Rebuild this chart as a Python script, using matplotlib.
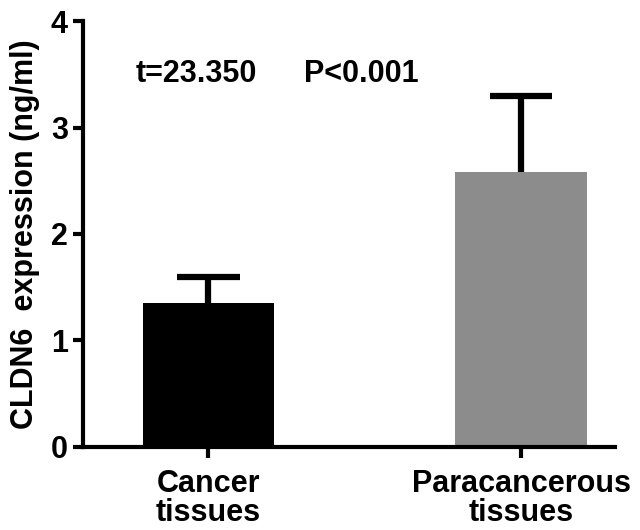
import matplotlib
matplotlib.use("Agg")
import matplotlib.pyplot as plt

plt.rcParams['font.family'] = ['Liberation Sans', 'DejaVu Sans']
plt.rcParams['font.weight'] = 'bold'

# Data
groups = ["Cancer\ntissues", "Paracancerous\ntissues"]
means = [1.35, 2.58]
sd = [0.25, 0.72]
colors = ["#000000", "#8c8c8c"]

fig = plt.figure(figsize=(6.4, 5.3), dpi=100)
ax = fig.add_axes([0.130, 0.157, 0.831, 0.803])

x = list(range(len(groups)))
ax.bar(x, means, width=0.42, color=colors, zorder=2)
# upper error bars only (SD)
tops = [m + s for m, s in zip(means, sd)]
ax.vlines(x, means, tops, color="black", linewidth=4.5, zorder=1)
ax.hlines(tops, [i - 0.1 for i in x], [i + 0.1 for i in x], color="black",
          linewidth=4.5, zorder=1)

ax.set_xlim(-0.4, 1.30)
ax.set_ylim(0, 4)
ax.set_yticks([0, 1, 2, 3, 4])
ax.set_xticks(x)
ax.set_xticklabels(groups, fontsize=22, fontweight="bold", linespacing=0.95)
ax.tick_params(axis="y", labelsize=22, width=3, length=7, pad=4)
ax.tick_params(axis="x", width=3, length=8, pad=8)
for lbl in ax.get_yticklabels():
    lbl.set_fontweight("bold")

for s in ["top", "right"]:
    ax.spines[s].set_visible(False)
for s in ["left", "bottom"]:
    ax.spines[s].set_linewidth(3)

ax.set_ylabel("CLDN6  expression (ng/ml)", fontsize=22, fontweight="bold", labelpad=8)

ax.text(-0.04, 3.5, "t=23.350", fontsize=22, fontweight="bold", ha="center", va="center")
ax.text(0.49, 3.5, "P<0.001", fontsize=22, fontweight="bold", ha="center", va="center")

fig.savefig("out.png", dpi=100)
